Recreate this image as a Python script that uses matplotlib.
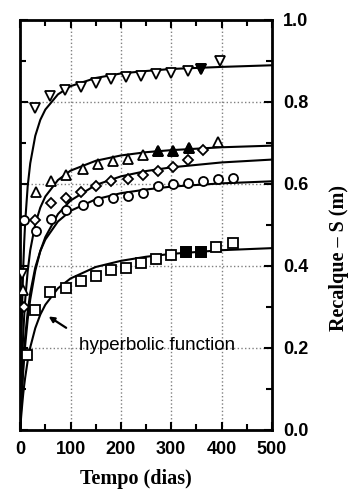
import matplotlib.pyplot as plt
from matplotlib.ticker import MultipleLocator

# measured points (tempo in days, recalque in m)
t_dn = [3, 29, 60, 90, 120, 150, 180, 210, 240, 270, 300, 333, 360, 396]
s_dn = [0.38, 0.785, 0.815, 0.829, 0.837, 0.846, 0.856, 0.860, 0.863, 0.868, 0.871, 0.876, 0.880, 0.900]
dn_filled = [12]

t_up = [6, 31, 61, 91, 124, 154, 184, 214, 244, 274, 304, 335, 393]
s_up = [0.34, 0.581, 0.606, 0.622, 0.636, 0.649, 0.655, 0.661, 0.671, 0.679, 0.681, 0.687, 0.703]
up_filled = [9, 10, 11]

t_dia = [8, 30, 61, 91, 121, 151, 181, 214, 244, 274, 304, 333, 363]
s_dia = [0.30, 0.512, 0.553, 0.565, 0.581, 0.594, 0.606, 0.611, 0.622, 0.630, 0.642, 0.657, 0.683]

t_circ = [8, 31, 61, 91, 124, 154, 184, 214, 244, 274, 304, 333, 363, 393, 423]
s_circ = [0.512, 0.486, 0.515, 0.535, 0.549, 0.557, 0.565, 0.569, 0.577, 0.594, 0.600, 0.603, 0.606, 0.611, 0.614]

t_sq = [13, 29, 60, 91, 120, 151, 181, 211, 240, 270, 300, 330, 360, 390, 422]
s_sq = [0.183, 0.291, 0.335, 0.347, 0.364, 0.376, 0.389, 0.394, 0.406, 0.416, 0.427, 0.433, 0.433, 0.447, 0.455]
sq_filled = [11, 12]

# fitted hyperbolic curves
t_fit = [0, 1, 2, 4, 6, 8, 10, 15, 20, 30, 40, 50, 75, 100, 150, 200, 250, 300, 400, 500]
fit_dn = [0, 0.103, 0.185, 0.307, 0.393, 0.458, 0.508, 0.595, 0.650, 0.717, 0.756, 0.781, 0.818,
          0.838, 0.858, 0.869, 0.875, 0.880, 0.885, 0.889]
fit_up = [0, 0.053, 0.098, 0.173, 0.231, 0.278, 0.317, 0.388, 0.438, 0.502, 0.542, 0.569, 0.609,
          0.632, 0.656, 0.669, 0.677, 0.682, 0.689, 0.693]
fit_dia = [0, 0.028, 0.054, 0.101, 0.141, 0.176, 0.207, 0.270, 0.318, 0.388, 0.436, 0.470, 0.526,
           0.559, 0.597, 0.618, 0.631, 0.640, 0.652, 0.659]
fit_circ = [0, 0.034, 0.064, 0.116, 0.160, 0.196, 0.228, 0.289, 0.334, 0.396, 0.436, 0.464, 0.508,
            0.534, 0.562, 0.577, 0.586, 0.593, 0.601, 0.606]
fit_sq = [0, 0.017, 0.033, 0.061, 0.087, 0.109, 0.128, 0.169, 0.201, 0.248, 0.281, 0.305, 0.345,
          0.369, 0.397, 0.412, 0.422, 0.429, 0.438, 0.443]

x_ticks = [0, 100, 200, 300, 400, 500]
y_ticks = [0.0, 0.2, 0.4, 0.6, 0.8, 1.0]

fig = plt.figure(figsize=(3.54, 4.94), dpi=100)
ax = fig.add_axes([0.057, 0.13, 0.711, 0.83])

for f in [fit_dn, fit_up, fit_dia, fit_circ, fit_sq]:
    ax.plot(t_fit, f, color='black', lw=1.5, zorder=3)

series = [
    (t_dn, s_dn, 'v', dn_filled),
    (t_up, s_up, '^', up_filled),
    (t_dia, s_dia, 'D', []),
    (t_circ, s_circ, 'o', []),
    (t_sq, s_sq, 's', sq_filled),
]
for t, s, m, filled in series:
    ms = 5.0 if m == 'D' else 6.5
    ax.plot(t, s, linestyle='none', marker=m, ms=ms, mfc='white', mec='black', mew=1.3, zorder=4)
    if filled:
        ax.plot([t[i] for i in filled], [s[i] for i in filled], linestyle='none', marker=m,
                ms=ms, mfc='black', mec='black', mew=1.3, zorder=5)

ax.annotate('', xy=(52, 0.28), xytext=(96, 0.245),
            arrowprops=dict(arrowstyle='-|>', color='black', lw=1.6, mutation_scale=8))
ax.text(116, 0.205, 'hyperbolic function', fontsize=13.5, family='Liberation Sans',
        va='center', ha='left')

ax.set_xlim(0, 500)
ax.set_ylim(0, 1.0)
ax.set_xticks(x_ticks)
ax.set_xticklabels([str(v) for v in x_ticks], fontweight='bold', family='Liberation Sans')
ax.set_yticks(y_ticks)
ax.set_yticklabels(['%.1f' % v for v in y_ticks], fontweight='bold', family='Liberation Sans')
ax.xaxis.set_minor_locator(MultipleLocator(50))
ax.yaxis.set_minor_locator(MultipleLocator(0.1))
ax.tick_params(which='both', direction='in', top=True, right=True, left=True, bottom=True,
               labelleft=False, labelright=True, width=1.5, color='black')
ax.tick_params(which='major', length=6, pad=8, labelsize=13)
ax.tick_params(which='minor', length=4)

ax.grid(True, which='major', linestyle=':', color='gray', lw=1.0)
for sp in ax.spines.values():
    sp.set_linewidth(2)

ax.set_xlabel('Tempo (dias)', family='Liberation Serif', fontweight='bold', fontsize=14.5)
ax.xaxis.set_label_coords(0.46, -0.095)
ax.yaxis.set_label_position('right')
ax.set_ylabel('Recalque – S (m)', family='Liberation Serif', fontweight='bold', fontsize=14.5)
ax.yaxis.set_label_coords(1.225, 0.42)

fig.savefig('out.png', dpi=100)
